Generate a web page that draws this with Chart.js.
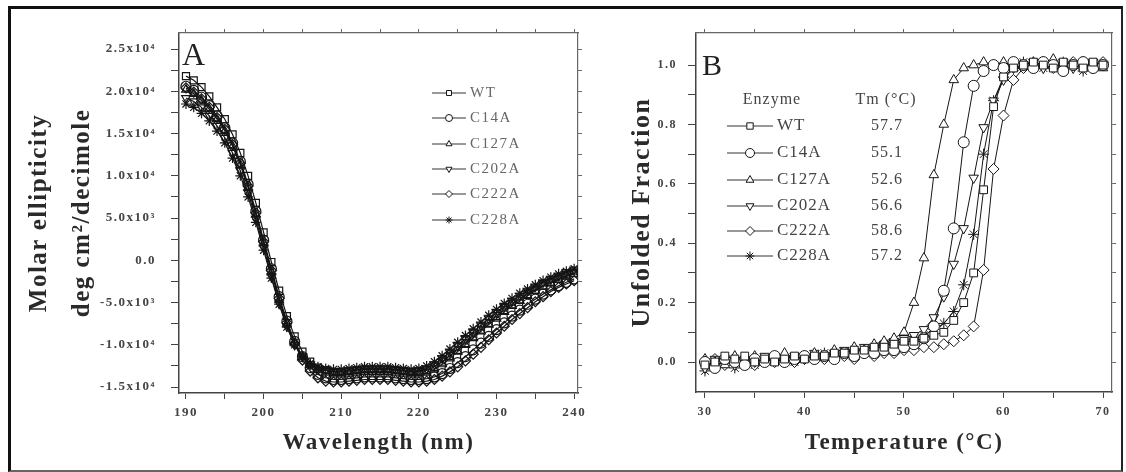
<!DOCTYPE html>
<html>
<head>
<meta charset="utf-8">
<title>CD spectra and thermal unfolding</title>
<script src="https://cdn.jsdelivr.net/npm/chart.js@4.4.1/dist/chart.umd.min.js"></script>
<style>
  html, body { margin: 0; padding: 0; background: #fff; }
  body { width: 1126px; height: 472px; position: relative; overflow: hidden; }
  #frame {
    position: absolute; left: 8px; top: 6px; width: 1110px; height: 461px;
    border-top: 3px solid #111; border-left: 3px solid #111;
    border-right: 2px solid #222; border-bottom: 2px solid #666;
  }
  .panel { position: absolute; top: 10px; height: 455px; }
  #panelA { left: 12px; width: 578px; }
  #panelB { left: 590px; width: 530px; }
</style>
</head>
<body>
<div id="frame"></div>
<div class="panel" id="panelA"><canvas id="chartA"></canvas></div>
<div class="panel" id="panelB"><canvas id="chartB"></canvas></div>
<script>
// ---- Panel A: far-UV CD spectra (values in 10^3 deg cm2/dmol) ----
const wavelength = [190, 191, 192, 193, 194, 195, 196, 197, 198, 199,
    200, 201, 202, 203, 204, 205, 206, 207, 208, 209,
    210, 211, 212, 213, 214, 215, 216, 217, 218, 219,
    220, 221, 222, 223, 224, 225, 226, 227, 228, 229,
    230, 231, 232, 233, 234, 235, 236, 237, 238, 239,
    240];

const cdWT = [21.8, 21.3, 20.5, 19.4, 18.1, 16.7, 14.9, 12.7, 10.0, 6.8,
    3.3, -0.2, -3.6, -6.6, -9.0, -10.8, -12.0, -12.7, -13.0, -13.2,
    -13.2, -13.1, -13.0, -12.9, -12.9, -12.9, -12.9, -13.0, -13.1, -13.2,
    -13.2, -13.0, -12.6, -12.0, -11.3, -10.6, -9.8, -9.0, -8.2, -7.4,
    -6.6, -5.9, -5.2, -4.6, -4.0, -3.5, -3.0, -2.6, -2.2, -1.8,
    -1.5];
const cdC14A = [20.6, 20.1, 19.3, 18.3, 17.1, 15.7, 13.9, 11.7, 9.0, 5.8,
    2.4, -1.0, -4.3, -7.2, -9.6, -11.4, -12.7, -13.5, -13.9, -14.1,
    -14.1, -14.0, -13.9, -13.8, -13.8, -13.8, -13.8, -13.9, -14.0, -14.1,
    -14.1, -14.0, -13.8, -13.4, -12.8, -12.1, -11.4, -10.6, -9.8, -9.0,
    -8.2, -7.4, -6.6, -5.9, -5.2, -4.6, -4.0, -3.5, -3.0, -2.6,
    -2.2];
const cdC127A = [20.2, 19.7, 18.9, 17.9, 16.7, 15.3, 13.5, 11.3, 8.6, 5.4,
    2.0, -1.4, -4.7, -7.5, -9.8, -11.4, -12.4, -13.0, -13.3, -13.5,
    -13.5, -13.4, -13.3, -13.2, -13.2, -13.2, -13.2, -13.3, -13.4, -13.5,
    -13.5, -13.3, -12.9, -12.3, -11.6, -10.8, -10.0, -9.2, -8.4, -7.6,
    -6.9, -6.1, -5.4, -4.8, -4.2, -3.6, -3.1, -2.7, -2.3, -1.9,
    -1.6];
const cdC202A = [19.2, 18.8, 18.1, 17.1, 15.9, 14.5, 12.7, 10.6, 8.0, 4.9,
    1.5, -1.9, -5.1, -7.8, -10.0, -11.4, -12.3, -12.8, -13.0, -13.1,
    -13.1, -13.0, -12.9, -12.8, -12.8, -12.8, -12.8, -12.9, -13.0, -13.1,
    -13.0, -12.8, -12.3, -11.6, -10.9, -10.1, -9.3, -8.5, -7.7, -6.9,
    -6.2, -5.5, -4.8, -4.2, -3.6, -3.1, -2.6, -2.2, -1.8, -1.4,
    -1.1];
const cdC222A = [20.4, 19.9, 19.1, 18.1, 16.9, 15.5, 13.7, 11.5, 8.8, 5.6,
    2.2, -1.2, -4.5, -7.4, -9.9, -11.8, -13.1, -13.9, -14.3, -14.4,
    -14.4, -14.3, -14.2, -14.1, -14.1, -14.1, -14.1, -14.2, -14.3, -14.4,
    -14.4, -14.3, -14.1, -13.7, -13.2, -12.6, -11.9, -11.1, -10.3, -9.4,
    -8.6, -7.8, -7.0, -6.3, -5.6, -4.9, -4.3, -3.7, -3.2, -2.8,
    -2.4];
const cdC228A = [18.5, 18.1, 17.4, 16.5, 15.3, 13.9, 12.1, 10.0, 7.5, 4.5,
    1.2, -2.1, -5.2, -7.9, -10.0, -11.4, -12.2, -12.6, -12.8, -12.9,
    -12.9, -12.8, -12.7, -12.6, -12.6, -12.6, -12.6, -12.7, -12.8, -12.9,
    -12.8, -12.5, -12.0, -11.3, -10.5, -9.7, -8.9, -8.1, -7.3, -6.5,
    -5.8, -5.1, -4.5, -3.9, -3.4, -2.9, -2.4, -2.0, -1.6, -1.3,
    -1.0];

const xTicksA = [190, 195, 200, 205, 210, 215, 220, 225, 230, 235, 240];
const yTicksA = [-15, -12.5, -10, -7.5, -5, -2.5, 0, 2.5, 5, 7.5, 10, 12.5, 15, 17.5, 20, 22.5, 25];
const yMajorA = [-15, -10, -5, 0, 5, 10, 15, 20, 25];
const yLabelA = ['-1.5x10⁴', '-1.0x10⁴', '-5.0x10³', '0.0', '5.0x10³', '1.0x10⁴', '1.5x10⁴', '2.0x10⁴', '2.5x10⁴'];

// ---- Panel B: thermal unfolding ----
const temperature = [30, 31, 32, 33, 34, 35, 36, 37, 38, 39,
    40, 41, 42, 43, 44, 45, 46, 47, 48, 49,
    50, 51, 52, 53, 54, 55, 56, 57, 58, 59,
    60, 61, 62, 63, 64, 65, 66, 67, 68, 69,
    70];

const ufWT = [-0.01, 0.00, 0.02, 0.01, 0.02, 0.00, 0.01, 0.00, 0.01, 0.02,
    0.01, 0.02, 0.02, 0.03, 0.03, 0.04, 0.04, 0.05, 0.05, 0.06,
    0.07, 0.07, 0.08, 0.09, 0.10, 0.14, 0.20, 0.30, 0.58, 0.86,
    0.96, 0.99, 1.00, 1.01, 1.00, 0.99, 1.01, 1.00, 0.99, 1.01,
    1.00];
const ufC14A = [0.00, -0.02, 0.01, 0.00, -0.01, 0.01, 0.00, 0.02, 0.00, 0.01,
    0.02, 0.01, 0.02, 0.01, 0.03, 0.02, 0.03, 0.03, 0.04, 0.04,
    0.05, 0.06, 0.08, 0.12, 0.24, 0.45, 0.74, 0.93, 0.98, 1.00,
    0.99, 1.01, 1.00, 0.99, 1.01, 1.00, 0.98, 1.00, 1.01, 0.99,
    1.00];
const ufC127A = [0.01, 0.00, -0.01, 0.02, 0.01, 0.02, 0.00, 0.01, 0.03, 0.01,
    0.02, 0.03, 0.02, 0.04, 0.03, 0.05, 0.04, 0.06, 0.07, 0.08,
    0.10, 0.20, 0.35, 0.63, 0.80, 0.95, 0.99, 1.00, 1.01, 1.00,
    1.01, 0.99, 1.00, 1.01, 1.00, 1.02, 0.99, 1.00, 1.01, 1.00,
    0.99];
const ufC202A = [-0.02, 0.01, 0.00, -0.01, 0.01, 0.00, 0.02, 0.01, 0.00, 0.02,
    0.01, 0.03, 0.02, 0.03, 0.04, 0.03, 0.05, 0.05, 0.06, 0.07,
    0.08, 0.09, 0.11, 0.15, 0.22, 0.33, 0.45, 0.62, 0.79, 0.88,
    0.95, 0.99, 1.00, 1.01, 0.99, 1.00, 1.01, 0.99, 1.00, 1.01,
    1.00];
const ufC222A = [0.00, 0.01, -0.01, 0.00, 0.01, -0.01, 0.01, 0.00, 0.02, 0.00,
    0.01, 0.02, 0.01, 0.02, 0.02, 0.01, 0.03, 0.02, 0.03, 0.03,
    0.04, 0.04, 0.05, 0.05, 0.06, 0.07, 0.09, 0.12, 0.31, 0.65,
    0.83, 0.95, 0.99, 1.00, 1.01, 0.99, 1.00, 1.01, 0.99, 1.00,
    1.01];
const ufC228A = [-0.03, -0.01, 0.00, -0.02, 0.00, -0.01, 0.01, 0.00, 0.01, 0.00,
    0.02, 0.01, 0.03, 0.02, 0.03, 0.04, 0.03, 0.05, 0.06, 0.06,
    0.07, 0.08, 0.09, 0.11, 0.13, 0.17, 0.26, 0.43, 0.70, 0.88,
    0.96, 0.99, 1.01, 1.00, 0.99, 1.00, 1.01, 1.00, 0.98, 1.00,
    1.00];

const xTicksB = [30, 35, 40, 45, 50, 55, 60, 65, 70];
const yTicksB = [0, 0.1, 0.2, 0.3, 0.4, 0.5, 0.6, 0.7, 0.8, 0.9, 1.0];
const yMajorB = [0, 0.2, 0.4, 0.6, 0.8, 1.0];
const yLabelB = ['0.0', '0.2', '0.4', '0.6', '0.8', '1.0'];

const enzymes = ['WT', 'C14A', 'C127A', 'C202A', 'C222A', 'C228A'];
const tmValues = ['57.7', '55.1', '52.6', '56.6', '58.6', '57.2'];

// ---- styling ----
const SERIF = "'Liberation Serif', 'Times New Roman', serif";
const INK = '#151515';
const markerStyle = ['rect', 'circle', 'triangle', 'triangle', 'rectRot', 'star'];
const markerRotation = [0, 0, 0, 180, 0, 0];

Chart.defaults.animation = false;
Chart.defaults.font.family = SERIF;

const toPoints = (xs, ys) => xs.map((x, i) => ({ x: x, y: ys[i] }));

function buildSets(xs, series, radius, fill, width) {
    return series.map((ys, i) => ({
        label: enzymes[i],
        data: toPoints(xs, ys),
        showLine: true,
        borderColor: INK,
        borderWidth: width,
        tension: 0,
        pointStyle: markerStyle[i],
        pointRotation: markerRotation[i],
        pointRadius: radius,
        pointBorderColor: INK,
        pointBorderWidth: width,
        pointBackgroundColor: fill
    }));
}

function mainAxis(pos, min, max, tickVals, label, size, titleOpts, fit) {
    return {
        type: 'linear', position: pos, min: min, max: max,
        afterBuildTicks: s => { s.ticks = tickVals.map(v => ({ value: v })); },
        afterFit: s => { if (pos === 'bottom') s.height = fit; else s.width = fit; },
        ticks: {
            autoSkip: false, maxRotation: 0, callback: label,
            color: '#444', font: { size: size.font, weight: 'bold' }, padding: size.pad
        },
        grid: { drawOnChartArea: false, drawTicks: true, tickLength: size.tick, tickColor: '#444', tickWidth: 1 },
        border: { display: true, color: '#444', width: 1.5 },
        title: titleOpts
    };
}

function sideAxis(pos, min, max, tickVals) {
    return {
        type: 'linear', position: pos, min: min, max: max,
        afterBuildTicks: s => { s.ticks = tickVals.map(v => ({ value: v })); },
        afterFit: s => { if (pos === 'top') s.height = 8; else s.width = 8; },
        ticks: { display: false },
        grid: { drawOnChartArea: false, drawTicks: true, tickLength: 4, tickColor: '#666', tickWidth: 1 },
        border: { display: true, color: '#666', width: 1.2 }
    };
}

// letter spacing on every text the library draws
const spacing = {
    id: 'spacing',
    beforeDraw(chart) { chart.ctx.letterSpacing = '1.5px'; }
};

function drawMarker(ctx, i, x, y, r) {
    ctx.fillStyle = '#fff';
    ctx.strokeStyle = INK;
    ctx.lineWidth = 1;
    Chart.helpers.drawPoint(ctx, { pointStyle: markerStyle[i], rotation: markerRotation[i], radius: r, borderWidth: 1 }, x, y);
}

const legendA = {
    id: 'legendA',
    afterDraw(chart) {
        const ctx = chart.ctx;
        const rows = [83, 108, 134, 159, 184, 210];
        ctx.save();
        ctx.letterSpacing = '0px';
        ctx.fillStyle = '#222';
        ctx.font = '32px ' + SERIF;
        ctx.textBaseline = 'alphabetic';
        ctx.fillText('A', 170, 55);
        ctx.letterSpacing = '1.5px';
        enzymes.forEach((name, i) => {
            const y = rows[i];
            ctx.strokeStyle = '#333';
            ctx.lineWidth = 1;
            ctx.beginPath();
            ctx.moveTo(420, y);
            ctx.lineTo(454, y);
            ctx.stroke();
            drawMarker(ctx, i, 437, y, 3.5);
            ctx.fillStyle = '#666';
            ctx.font = '15px ' + SERIF;
            ctx.textBaseline = 'middle';
            ctx.textAlign = 'left';
            ctx.fillText(name, 458, y);
        });
        ctx.restore();
    }
};

const legendB = {
    id: 'legendB',
    afterDraw(chart) {
        const ctx = chart.ctx;
        const rows = [116, 143, 170, 196, 221, 246];
        ctx.save();
        ctx.letterSpacing = '0px';
        ctx.fillStyle = '#222';
        ctx.font = '30px ' + SERIF;
        ctx.textBaseline = 'alphabetic';
        ctx.fillText('B', 112, 65);
        ctx.letterSpacing = '1px';
        ctx.fillStyle = '#444';
        ctx.font = '16px ' + SERIF;
        ctx.textBaseline = 'middle';
        ctx.textAlign = 'center';
        ctx.fillText('Enzyme', 182, 90);
        ctx.fillText('Tm (°C)', 296, 90);
        enzymes.forEach((name, i) => {
            const y = rows[i];
            ctx.strokeStyle = '#333';
            ctx.lineWidth = 1;
            ctx.beginPath();
            ctx.moveTo(137, y);
            ctx.lineTo(183, y);
            ctx.stroke();
            drawMarker(ctx, i, 160, y, 4.5);
            ctx.fillStyle = '#444';
            ctx.font = '17px ' + SERIF;
            ctx.textAlign = 'left';
            ctx.fillText(name, 187, y);
            ctx.font = '16px ' + SERIF;
            ctx.textAlign = 'center';
            ctx.fillText(tmValues[i], 297, y);
        });
        ctx.restore();
    }
};

const titleFont = { size: 23, weight: 'bold', lineHeight: 1.2 };

// ---- Chart A ----
new Chart(document.getElementById('chartA'), {
    type: 'scatter',
    data: { datasets: buildSets(wavelength, [cdWT, cdC14A, cdC127A, cdC202A, cdC222A, cdC228A], 5, 'rgba(255,255,255,0)', 1.2) },
    options: {
        responsive: true,
        maintainAspectRatio: false,
        layout: { padding: { left: 0, top: 15, right: 0, bottom: 0 } },
        plugins: { legend: { display: false }, tooltip: { enabled: false } },
        scales: {
            x: mainAxis('bottom', 189.1, 240.5, xTicksA, v => (v % 10 === 0 ? String(v) : ''),
                { font: 13, pad: 6, tick: 6 },
                { display: true, text: 'Wavelength (nm)', color: '#2a2a2a', font: titleFont, padding: { top: 0, bottom: 8 } }, 72),
            y: mainAxis('left', -15.7, 26.9, yTicksA, v => { const k = yMajorA.indexOf(v); return k < 0 ? '' : yLabelA[k]; },
                { font: 13, pad: 15, tick: 8 },
                { display: true, text: ['Molar ellipticity', 'deg cm²/decimole'], color: '#2a2a2a',
                  font: { size: 25, weight: 'bold', lineHeight: 1.72 }, padding: { top: 6, bottom: 0 } }, 167),
            xTop: sideAxis('top', 189.1, 240.5, xTicksA),
            yRight: sideAxis('right', -15.7, 26.9, yTicksA)
        }
    },
    plugins: [spacing, legendA]
});

// ---- Chart B ----
new Chart(document.getElementById('chartB'), {
    type: 'scatter',
    data: { datasets: buildSets(temperature, [ufWT, ufC14A, ufC127A, ufC202A, ufC222A, ufC228A], 5.5, '#fff', 1) },
    options: {
        responsive: true,
        maintainAspectRatio: false,
        layout: { padding: { left: 0, top: 15, right: 0, bottom: 0 } },
        plugins: { legend: { display: false }, tooltip: { enabled: false } },
        scales: {
            x: mainAxis('bottom', 29.1, 70.9, xTicksB, v => (v % 10 === 0 ? String(v) : ''),
                { font: 12, pad: 7, tick: 6 },
                { display: true, text: 'Temperature (°C)', color: '#2a2a2a', font: titleFont, padding: { top: 0, bottom: 8 } }, 73),
            y: mainAxis('left', -0.101, 1.108, yTicksB, v => { const k = yMajorB.indexOf(v); return k < 0 ? '' : yLabelB[k]; },
                { font: 12, pad: 11, tick: 8 },
                { display: true, text: 'Unfolded Fraction', color: '#2a2a2a',
                  font: { size: 26, weight: 'bold', lineHeight: 1.2 }, padding: { top: 37, bottom: 0 } }, 106),
            xTop: sideAxis('top', 29.1, 70.9, xTicksB),
            yRight: sideAxis('right', -0.101, 1.108, yTicksB)
        }
    },
    plugins: [spacing, legendB]
});
</script>
</body>
</html>
